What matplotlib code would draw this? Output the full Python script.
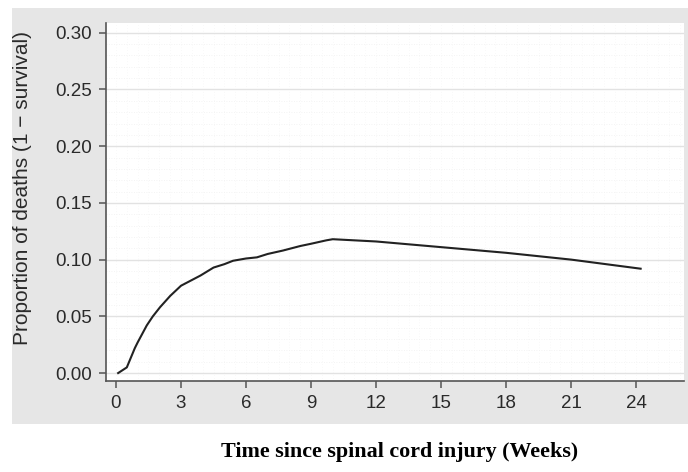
import matplotlib.pyplot as plt
from matplotlib.patches import Rectangle

# cumulative proportion of deaths
weeks = [0.1, 0.5, 0.87, 1.0, 1.42, 1.7, 2.03, 2.5, 3.0, 3.5, 3.9, 4.5, 5.0,
         5.4, 6.0, 6.5, 7.0, 7.7, 8.5, 9.0, 9.7, 10.0,
         12.0, 15.0, 18.0, 21.0, 24.2]
deaths = [0.000, 0.005, 0.022, 0.027, 0.042, 0.050, 0.058, 0.068, 0.077, 0.082,
          0.086, 0.093, 0.096, 0.099, 0.101, 0.102, 0.105, 0.108, 0.112, 0.114,
          0.117, 0.118,
          0.116, 0.111, 0.106, 0.100, 0.092]

x_ticks = [0, 3, 6, 9, 12, 15, 18, 21, 24]
y_ticks = [0.00, 0.05, 0.10, 0.15, 0.20, 0.25, 0.30]

fig = plt.figure(figsize=(6.88, 4.72), dpi=100)
fig.patch.set_facecolor("white")

# grey background panel behind the plot (Stata-ish look)
fig.patches.append(Rectangle((12 / 688, 1 - 424 / 472), 1 - 12 / 688, (424 - 8) / 472,
                             transform=fig.transFigure, facecolor="#e6e6e6",
                             edgecolor="none", zorder=-5))

ax = fig.add_axes([106 / 688, 1 - 381 / 472, (684 - 106) / 688, (381 - 23) / 472])
ax.set_facecolor("white")

# faint minor grid, stronger major horizontal grid
for yv in [i * 0.01 for i in range(31)]:
    ax.axhline(yv, color="#f0f0f0", lw=0.6, ls=(0, (1, 2)), zorder=1)
for xv in [i * 0.5 for i in range(53)]:
    ax.axvline(xv, color="#f3f3f3", lw=0.5, ls=(0, (1, 3)), zorder=1)
for yv in y_ticks:
    ax.axhline(yv, color="#e2e2e2", lw=1.0, zorder=1)

ax.plot(weeks, deaths, color="#222222", lw=1.5, zorder=3)

ax.set_xlim(-0.46, 26.2)
ax.set_ylim(-0.007, 0.3086)
ax.set_xticks(x_ticks)
ax.set_yticks(y_ticks)
ax.set_yticklabels([f"{v:.2f}" for v in y_ticks])

for side in ["top", "right"]:
    ax.spines[side].set_visible(False)
for side in ["left", "bottom"]:
    ax.spines[side].set_color("#555555")
    ax.spines[side].set_linewidth(1.2)

ax.tick_params(axis="both", direction="out", length=5, width=1.1, color="#555555",
               labelsize=13.5, labelcolor="#2a2a2a", pad=5)
for lbl in ax.get_xticklabels() + ax.get_yticklabels():
    lbl.set_family(["Liberation Sans", "DejaVu Sans"])

ax.set_ylabel("Proportion of deaths (1 \u2212 survival)", fontsize=15, color="#2a2a2a",
              family=["Liberation Sans", "DejaVu Sans"])
ax.yaxis.set_label_coords(-0.1436, 0.539)
ax.yaxis.label.set_va("center")

fig.text(400 / 688, 1 - 452 / 472, "Time since spinal cord injury (Weeks)",
         ha="center", va="center", fontsize=15.8, fontweight="bold",
         family=["Liberation Serif", "DejaVu Serif"], color="black")

fig.savefig("out.png", dpi=100)
